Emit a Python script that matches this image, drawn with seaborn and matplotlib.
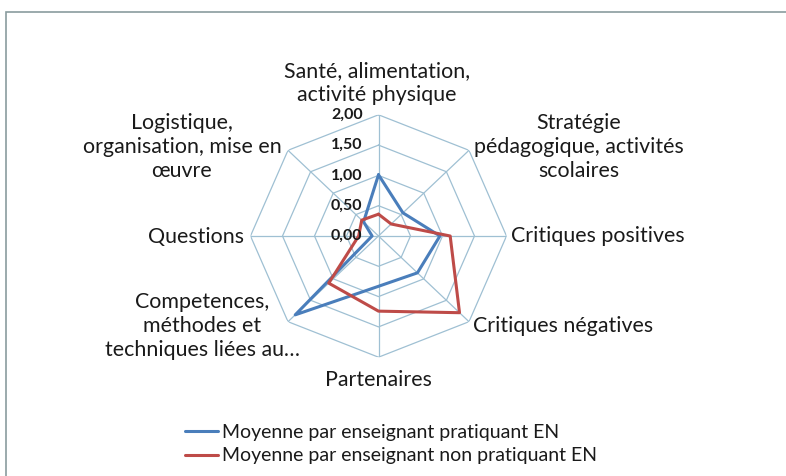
import numpy as np
import pandas as pd
import matplotlib
matplotlib.use("Agg")
import matplotlib.pyplot as plt
import seaborn as sns

categories = [
    "Santé, alimentation,\nactivité physique",
    "Stratégie\npédagogique, activités\nscolaires",
    "Critiques positives",
    "Critiques négatives",
    "Partenaires",
    "Competences,\nméthodes et\ntechniques liées au…",
    "Questions",
    "Logistique,\norganisation, mise en\nœuvre",
]
series_names = [
    "Moyenne par enseignant pratiquant EN",
    "Moyenne par enseignant non pratiquant EN",
]
values_en = [1.01, 0.54, 0.96, 0.86, 0.83, 1.84, 0.10, 0.33]
values_non_en = [0.36, 0.28, 1.12, 1.79, 1.24, 1.10, 0.31, 0.37]
tick_values = [0.0, 0.5, 1.0, 1.5, 2.0]
tick_labels = ["0,00", "0,50", "1,00", "1,50", "2,00"]

sns.set_theme(style="white")
plt.rcParams["font.family"] = ["Lato", "DejaVu Sans"]

W, H = 786, 476
fig = plt.figure(figsize=(W / 100, H / 100), dpi=100)

# outer frame
fig.patches.append(plt.Rectangle((6 / W, -0.01), 1.02, 1 - 12 / H + 0.01,
                                 transform=fig.transFigure, fill=False,
                                 edgecolor="#8a9c9e", linewidth=1.2))

cx, cy = 378.5, 236
rx, ry = 128, 121.2
ax = fig.add_axes([(cx - rx) / W, 1 - (cy + ry) / H, 2 * rx / W, 2 * ry / H],
                  projection="polar")
ax.set_aspect("auto")
ax.set_theta_zero_location("N")
ax.set_theta_direction(-1)
ax.set_ylim(0, 2)
ax.grid(False)
ax.spines["polar"].set_visible(False)
ax.set_xticks([])
ax.set_yticks([])
ax.patch.set_alpha(0)

n = len(categories)
angles = np.arange(n) * 2 * np.pi / n

grid_col = "#9fc0d3"
closed = np.append(angles, angles[0])
for v in tick_values[1:]:
    ax.plot(closed, [v] * (n + 1), color=grid_col, lw=0.9, zorder=1)
for a in angles:
    ax.plot([a, a], [0, 2], color=grid_col, lw=0.9, zorder=1)

rows = []
for name, vals in zip(series_names, [values_en, values_non_en]):
    for i, (a, v) in enumerate(zip(np.append(angles, 2 * np.pi), vals + [vals[0]])):
        rows.append({"angle": a, "value": v, "Série": name, "order": i})
df = pd.DataFrame(rows)

palette = {series_names[0]: "#4a7ebb", series_names[1]: "#be4b48"}
sns.lineplot(data=df, x="angle", y="value", hue="Série", palette=palette,
             sort=False, lw=2.2, ax=ax, zorder=3, estimator=None)
ax.set_xlabel("")
ax.set_ylabel("")
ax.set_ylim(0, 2)

txt_col = "#1a1a1a"
for v, lab in zip(tick_values, tick_labels):
    ax.annotate(lab, xy=(0, v), xytext=(-16, 0), textcoords="offset pixels",
                ha="right", va="center", fontsize=11.5, fontweight="bold",
                color=txt_col, zorder=5)

fs = 15.4
def ftxt(x, y, s, ha="center", **kw):
    fig.text(x / W, 1 - y / H, s, ha=ha, va="center", fontsize=fs,
             color=txt_col, linespacing=1.22, **kw)

ftxt(377, 83, categories[0])
ftxt(579, 147, categories[1])
ftxt(511, 236, categories[2], ha="left")
ftxt(473, 326, categories[3], ha="left")
ftxt(378, 380, categories[4])
ftxt(202, 326, categories[5])
ftxt(244, 237, categories[6], ha="right")
ftxt(182, 147, categories[7])

leg = ax.get_legend()
handles = leg.legend_handles
leg.remove()
fig.legend(handles, series_names, loc="center left",
           bbox_to_anchor=(185 / W, 1 - 444 / H), frameon=False,
           fontsize=14, handlelength=1.7, handletextpad=0.18,
           labelspacing=0.35, labelcolor=txt_col, borderaxespad=0,
           borderpad=0)

fig.savefig("out.png", dpi=100, facecolor="white")
